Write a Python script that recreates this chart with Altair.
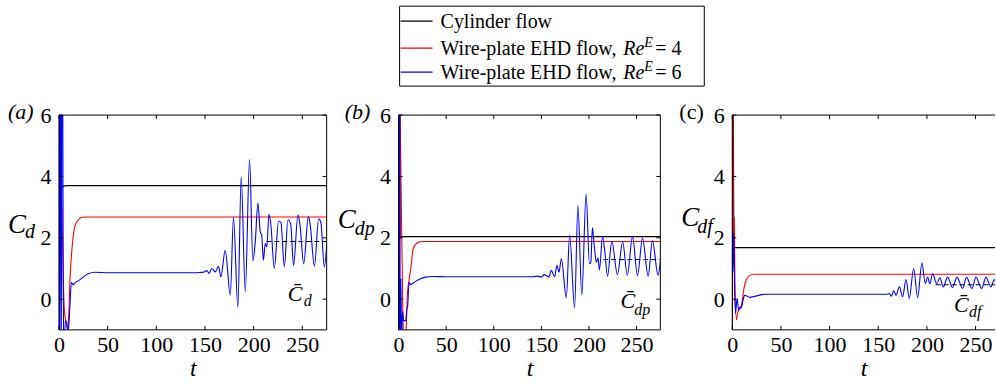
import altair as alt
import pandas as pd

FONT = "Liberation Serif"
BLACK, RED, BLUE = "#000000", "#ff0000", "#0000ff"

X_TICKS = [0, 50, 100, 150, 200, 250]
Y_TICKS = [0, 2, 4, 6]
LEGEND_LABELS = ["Cylinder flow", "Wire-plate EHD flow, ", "Wire-plate EHD flow, "]
LEGEND_RE = ["", "4", "6"]
LEGEND_COLORS = [BLACK, RED, BLUE]

# ---- (a) total drag coefficient C_d ----
a_black_t = [0, 0.7, 1.6, 3, 8, 275]
a_black_v = [-5, 9, 3.64, 3.66, 3.70, 3.70]
a_red_t = [0, 3, 5.5, 7.5, 9, 10, 11.3, 13.7, 16.5, 19.9, 23.3, 30, 275]
a_red_v = [10, 3, -0.3, -0.8, -0.95, -0.6, 0.6, 1.75, 2.4, 2.58, 2.67, 2.68, 2.68]
a_blue_t = [0, 0.8, 1.6, 2.4, 3.2, 4.4, 5.2, 6.5, 8, 9, 10, 11.3, 12.8, 14.5, 17, 21, 25, 30, 37,
            50, 140, 145, 148.4, 151.8, 154.2, 157, 160.5, 164, 166.3, 170.8, 176, 179.3, 183.8,
            187.2, 191.4, 195.8, 199.2, 201.6, 204.4, 206.8, 208.2, 210, 211.9, 213.5, 215.7,
            217.5, 221.2, 225.6, 228, 231.5, 235.2, 238, 241, 245.5, 247.5, 251.4, 256.2, 258,
            262.4, 266.8, 269, 272.6, 275]
a_blue_v = [14, -3, 14, -3, 14, 0.67, -2, -0.7, -0.75, -1.1, -0.9, -0.2, 0.55, 0.47, 0.55, 0.62,
            0.72, 0.83, 0.88, 0.86, 0.86, 0.87, 0.88, 0.93, 0.84, 1.0, 0.89, 1.07, 0.73, 1.59, 0.13,
            2.67, -0.27, 3.99, 0.24, 4.55, 1.25, 1.85, 3.13, 2.19, 2.1, 1.27, 1.81, 1.7, 2.76, 2.5,
            1.0, 2.55, 2.5, 1.05, 2.59, 2.45, 1.1, 2.75, 2.45, 1.15, 2.7, 2.45, 1.07, 2.62, 2.5,
            1.05, 1.75]
a_mean = 1.88

# ---- (b) pressure drag coefficient C_dp ----
b_black_t = [0, 0.7, 1.6, 275]
b_black_v = [-5, 9, 2.04, 2.04]
b_red_t = [0, 2.5, 4.5, 6, 7.5, 9.4, 11, 13.2, 15.3, 19.8, 25, 275]
b_red_v = [10, 4, -0.5, -1.3, -1.2, 0.24, 0.62, 1.1, 1.65, 1.84, 1.88, 1.88]
b_blue_t = [0, 0.5, 1.1, 1.7, 2.4, 3.2, 4.2, 5.2, 6.2, 7.5, 8.6, 9.6, 11, 12.5, 14, 18, 22, 28,
            36, 50, 140, 146, 150, 153, 155.2, 158, 160.4, 163.9, 166.3, 168.5, 171, 176.2,
            179.7, 184.9, 188.4, 192.5, 197, 200.5, 202, 203.6, 205.7, 207.8, 209.5, 211, 214.3,
            216.5, 219.5, 224, 229.9, 235.4, 240.3, 245.8, 251, 256.3, 262.2, 266.7, 272.6, 275]
b_blue_v = [12, -3, 12, -3, 0.67, -1.3, -0.4, -0.7, -0.7, -0.7, -0.35, -0.2, 0.55, 0.47, 0.5,
            0.58, 0.65, 0.72, 0.74, 0.73, 0.73, 0.75, 0.72, 0.8, 0.77, 0.72, 0.94, 0.73, 1.1,
            0.88, 1.32, 0.05, 2.08, -0.28, 3.05, 0.13, 3.43, 1.16, 1.2, 2.33, 1.7, 1.2, 1.35,
            0.95, 2.05, 1.6, 0.75, 1.89, 0.8, 1.87, 0.78, 2.04, 0.77, 1.99, 0.75, 1.91, 0.78, 1.24]
b_mean = 1.29

# ---- (c) friction drag coefficient C_df ----
c_black_t = [0, 0.7, 1.8, 275]
c_black_v = [-5, 9, 1.68, 1.68]
c_red_t = [0, 0.8, 1.4, 2.1, 2.8, 4.3, 5.5, 7, 9, 10.5, 12.1, 14.3, 17.3, 22, 275]
c_red_v = [12, 6.5, 1.2, 2.67, 0.5, -0.68, -0.45, -0.35, -0.25, 0.0, 0.37, 0.62, 0.76, 0.81, 0.81]
c_blue_t = [0, 0.7, 1.5, 2.3, 3.3, 5, 6.5, 8, 9.3, 11, 12.7, 15, 17.8, 24, 34, 50, 158, 161.5,
            163.5, 166, 168.3, 171.7, 175.1, 178.5, 181.9, 186.4, 190.5, 194.9, 198.4, 200.8,
            203, 205.9, 210, 213.4, 216.8, 221.3, 226.4, 230.9, 236.7, 240.8, 246.3, 250.4,
            256.2, 260.7, 265.8, 269.2, 272.5, 275]
c_blue_v = [4.98, 0.9, 2.14, 0.5, -0.46, 0.03, -0.36, -0.25, -0.28, -0.05, 0.13, 0.1, 0.06, 0.1,
            0.16, 0.16, 0.16, 0.18, 0.1, 0.27, 0.13, 0.4, 0.08, 0.64, 0.02, 1.0, 0.05, 1.18, 0.51,
            0.72, 0.5, 0.83, 0.51, 0.7, 0.4, 0.72, 0.38, 0.71, 0.35, 0.71, 0.35, 0.72, 0.35, 0.71,
            0.4, 0.64, 0.38, 0.6]
c_mean = 0.47

MEAN_START = {"a": 213, "b": 215, "c": 209}
T_END = 275
H = 215


def text(s, x, y, size, italic=True, align="left"):
    return alt.Chart().mark_text(
        font=FONT, fontSize=size, fontStyle="italic" if italic else "normal",
        align=align, baseline="alphabetic", color="black",
    ).encode(x=alt.value(x), y=alt.value(y), text=alt.value(s))


def rule(x, x2, y, y2, color="black", width=1.0):
    return alt.Chart().mark_rule(color=color, strokeWidth=width).encode(
        x=alt.value(x), x2=alt.value(x2), y=alt.value(y), y2=alt.value(y2))


def panel(key, width, x_max, series, mean_value, tag, tag_italic, ylab, ylab_pos,
          mean_sub, mean_pos, right_border=True, extra=None):
    x_enc = alt.X("t:Q", scale=alt.Scale(domain=[0, x_max], nice=False, zero=False),
                  axis=alt.Axis(values=X_TICKS, title="t", titleFont=FONT, titleFontSize=24,
                                titleFontStyle="italic", titleFontWeight="normal",
                                titlePadding=1, labelPadding=5, labelFlush=False,
                                labelFont=FONT, labelFontSize=22, labelColor="black",
                                titleColor="black", domain=False, ticks=False, grid=False))
    y_enc = alt.Y("v:Q", scale=alt.Scale(domain=[-1, 6], nice=False, zero=False),
                  axis=alt.Axis(values=Y_TICKS, title=None, labelPadding=8,
                                labelFont=FONT, labelFontSize=22, labelColor="black",
                                labelFlush=False, domain=False, ticks=False, grid=False))

    layers = []
    # curves: cylinder (black), Re^E = 4 (red), Re^E = 6 (blue)
    for (t, v), color in zip(series, [BLACK, RED, BLUE]):
        df = pd.DataFrame({"t": t, "v": v})
        layers.append(alt.Chart(df).mark_line(color=color, strokeWidth=1.1, clip=True,
                                              interpolate="monotone")
                      .encode(x=x_enc, y=y_enc))

    # time-averaged value of the Re^E = 6 case
    mean_df = pd.DataFrame({"t": [MEAN_START[key]], "t2": [T_END], "v": [mean_value]})
    layers.append(alt.Chart(mean_df).mark_rule(color="black", strokeWidth=1,
                                               strokeDash=[5, 3], clip=True)
                  .encode(x=x_enc, x2="t2:Q", y=y_enc))

    # frame
    layers += [rule(0, 0, 0, H), rule(0, width, H, H), rule(0, width, 0, 0)]
    if right_border:
        layers.append(rule(width, width, 0, H))

    # inward ticks on all sides
    xt = pd.DataFrame({"t": X_TICKS})
    yt = pd.DataFrame({"v": Y_TICKS})
    layers.append(alt.Chart(xt).mark_rule(color="black").encode(
        x=x_enc, y=alt.value(H), y2=alt.value(H - 4)))
    layers.append(alt.Chart(xt).mark_rule(color="black").encode(
        x=x_enc, y=alt.value(0), y2=alt.value(4)))
    layers.append(alt.Chart(yt).mark_rule(color="black").encode(
        y=y_enc, x=alt.value(0), x2=alt.value(4)))
    if right_border:
        layers.append(alt.Chart(yt).mark_rule(color="black").encode(
            y=y_enc, x=alt.value(width - 4), x2=alt.value(width)))

    # panel tag and y label C_sub
    tx, tlabel, ty = tag
    layers.append(text(tlabel, tx, ty, 22, italic=tag_italic))
    cx, cy, sx, sy = ylab_pos
    layers.append(text("C", cx, cy, 27))
    layers.append(text(ylab, sx, sy, 20))

    # label of the mean line
    mx, my, msx, msy = mean_pos
    layers.append(text("C\u0304", mx, my, 22))
    layers.append(text(mean_sub, msx, msy, 16))

    if extra:
        layers += extra
    return alt.layer(*layers).properties(width=width, height=H)


# legend, drawn above panel (b)
legend = [
    alt.Chart().mark_rect(fill="white", stroke="black", strokeWidth=1).encode(
        x=alt.value(1), x2=alt.value(306), y=alt.value(-109), y2=alt.value(-29)),
]
rows_y = [-94, -67, -43]
for i, (lab, re_val, col) in enumerate(zip(LEGEND_LABELS, LEGEND_RE, LEGEND_COLORS)):
    yy = rows_y[i]
    legend.append(rule(2, 34, yy, yy, color=col, width=1.1))
    legend.append(text(lab, 42, yy + 7, 20, italic=False))
    if re_val:
        legend.append(text("Re", 225, yy + 7, 20))
        legend.append(text("E", 246, yy - 1, 14))
        legend.append(text("= " + re_val, 257, yy + 7, 20, italic=False))

pa = panel("a", 268, 275,
           [(a_black_t, a_black_v), (a_red_t, a_red_v), (a_blue_t, a_blue_v)], a_mean,
           (-51, "(a)", 4), True, "d", (-51, 118, -34, 123), "d", (229, 186, 245, 191))
pb = panel("b", 262, 275,
           [(b_black_t, b_black_v), (b_red_t, b_red_v), (b_blue_t, b_blue_v)], b_mean,
           (-54, "(b)", 4), True, "dp", (-61, 113, -44, 120), "dp", (222, 193, 236, 200),
           extra=legend)
pc = panel("c", 263, 270,
           [(c_black_t, c_black_v), (c_red_t, c_red_v), (c_blue_t, c_blue_v)], c_mean,
           (-53, "(c)", 4), False, "df", (-51, 111, -35, 118), "df", (222, 197, 237, 202),
           right_border=False)

chart = (
    alt.hconcat(pa, pb, pc, spacing=72, bounds="flush")
    .properties(padding={"left": 8, "top": 5, "right": 0, "bottom": 0})
    .configure_view(stroke=None)
)

chart.save("out.html", embed_options={"renderer": "svg", "actions": False})
